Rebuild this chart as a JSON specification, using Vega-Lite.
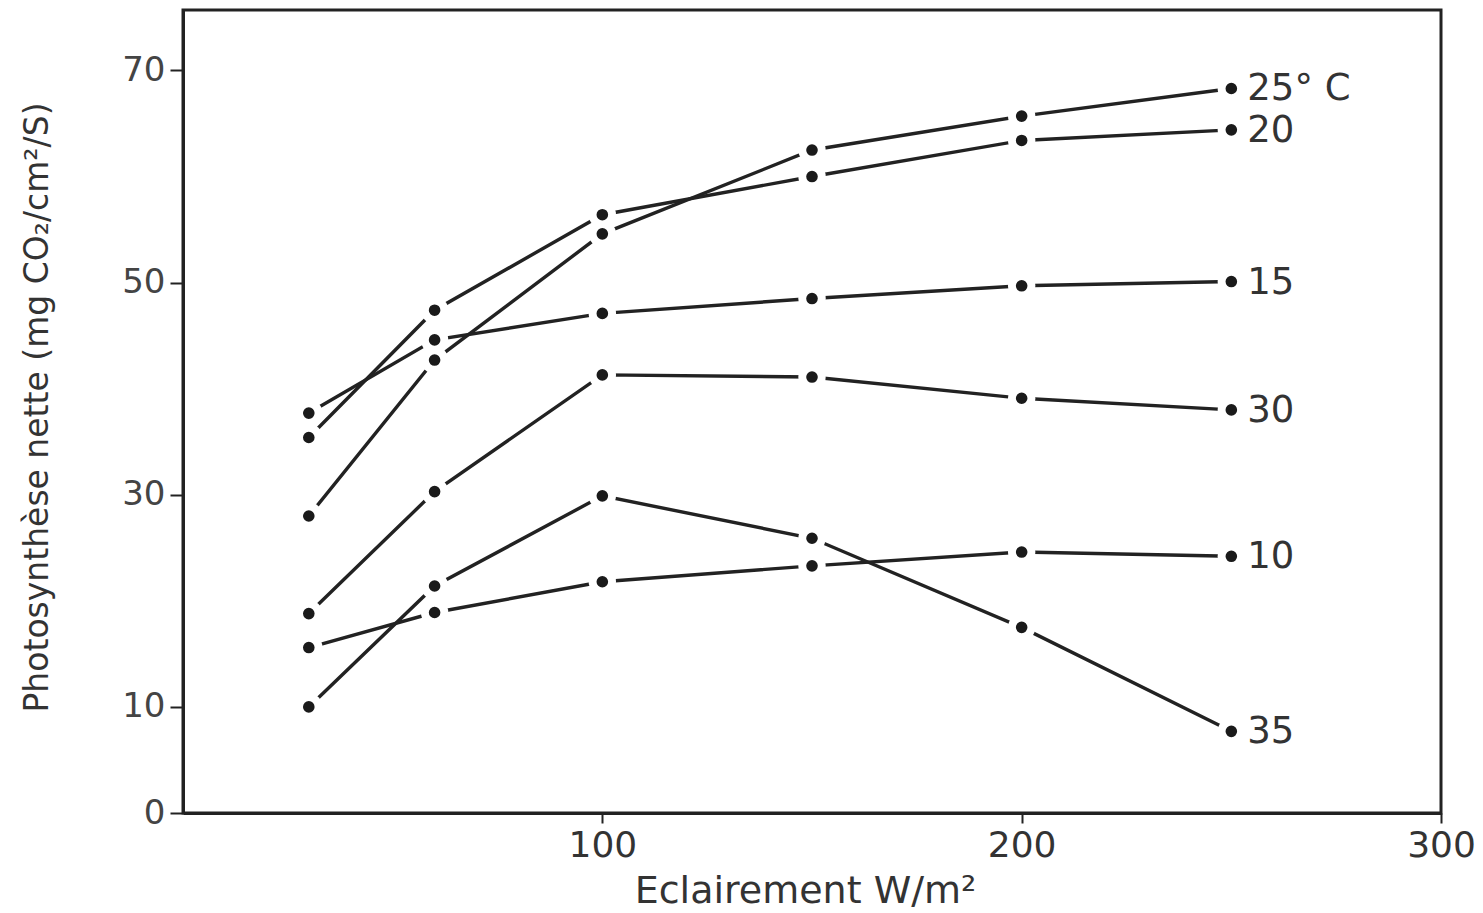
{
  "$schema": "https://vega.github.io/schema/vega-lite/v6.json",
  "autosize": {"type": "none"},
  "padding": {"left": 183, "top": 10, "right": 42, "bottom": 100},
  "width": 1258,
  "height": 803,
  "background": "white",
  "config": {
    "view": {"stroke": "#222", "strokeWidth": 3},
    "font": "DejaVu Sans"
  },
  "data": {
    "values": [
      {"serie": "25° C", "x": 30, "y": 28.0},
      {"serie": "25° C", "x": 60, "y": 42.7},
      {"serie": "25° C", "x": 100, "y": 54.6},
      {"serie": "25° C", "x": 150, "y": 62.5},
      {"serie": "25° C", "x": 200, "y": 65.7},
      {"serie": "25° C", "x": 250, "y": 68.3},
      {"serie": "20", "x": 30, "y": 35.4},
      {"serie": "20", "x": 60, "y": 47.4},
      {"serie": "20", "x": 100, "y": 56.4},
      {"serie": "20", "x": 150, "y": 60.0},
      {"serie": "20", "x": 200, "y": 63.4},
      {"serie": "20", "x": 250, "y": 64.4},
      {"serie": "15", "x": 30, "y": 37.7},
      {"serie": "15", "x": 60, "y": 44.6},
      {"serie": "15", "x": 100, "y": 47.1},
      {"serie": "15", "x": 150, "y": 48.5},
      {"serie": "15", "x": 200, "y": 49.7},
      {"serie": "15", "x": 250, "y": 50.1},
      {"serie": "30", "x": 30, "y": 18.8},
      {"serie": "30", "x": 60, "y": 30.3},
      {"serie": "30", "x": 100, "y": 41.3},
      {"serie": "30", "x": 150, "y": 41.1},
      {"serie": "30", "x": 200, "y": 39.1},
      {"serie": "30", "x": 250, "y": 38.0},
      {"serie": "10", "x": 30, "y": 15.6},
      {"serie": "10", "x": 60, "y": 18.9},
      {"serie": "10", "x": 100, "y": 21.8},
      {"serie": "10", "x": 150, "y": 23.3},
      {"serie": "10", "x": 200, "y": 24.6},
      {"serie": "10", "x": 250, "y": 24.2},
      {"serie": "35", "x": 30, "y": 10.0},
      {"serie": "35", "x": 60, "y": 21.4},
      {"serie": "35", "x": 100, "y": 29.9},
      {"serie": "35", "x": 150, "y": 25.9},
      {"serie": "35", "x": 200, "y": 17.5},
      {"serie": "35", "x": 250, "y": 7.7}
    ]
  },
  "encoding": {
    "x": {
      "field": "x",
      "type": "quantitative",
      "scale": {"domain": [0, 300], "nice": false, "zero": false},
      "axis": {
        "values": [100, 200, 300],
        "title": "Eclairement W/m²",
        "titleFont": "DejaVu Sans",
        "titleFontSize": 38,
        "titleFontWeight": "normal",
        "titleColor": "#333",
        "titleX": 622,
        "titleY": 78,
        "titleAlign": "center",
        "titleBaseline": "middle",
        "labelFont": "DejaVu Sans",
        "labelFontSize": 36,
        "labelColor": "#333",
        "labelPadding": 5,
        "labelFlush": false,
        "tickSize": 10,
        "tickColor": "#222",
        "tickWidth": 2,
        "domainColor": "#222",
        "domainWidth": 3,
        "grid": false
      }
    },
    "y": {
      "field": "y",
      "type": "quantitative",
      "scale": {"domain": [0, 75.7], "nice": false, "zero": false},
      "axis": {
        "values": [0, 10, 30, 50, 70],
        "title": "Photosynthèse nette (mg CO₂/cm²/S)",
        "titleFont": "DejaVu Sans",
        "titleFontSize": 33,
        "titleFontWeight": "normal",
        "titleColor": "#333",
        "titleAngle": -90,
        "titleX": -146,
        "titleY": 397,
        "titleAlign": "center",
        "titleBaseline": "middle",
        "labelFont": "DejaVu Sans",
        "labelFontSize": 34,
        "labelColor": "#444",
        "labelPadding": 5,
        "labelFlush": false,
        "tickSize": 13,
        "tickColor": "#222",
        "tickWidth": 2,
        "domainColor": "#222",
        "domainWidth": 3,
        "grid": false
      }
    }
  },
  "layer": [
    {
      "mark": {"type": "line", "color": "#222", "strokeWidth": 3.4},
      "encoding": {"detail": {"field": "serie"}}
    },
    {
      "mark": {"type": "point", "filled": true, "color": "white", "opacity": 1, "size": 750},
      "encoding": {}
    },
    {
      "mark": {"type": "point", "filled": true, "color": "#1a1a1a", "opacity": 1, "size": 135},
      "encoding": {}
    },
    {
      "transform": [{"filter": "datum.x == 250"}],
      "mark": {"type": "text", "align": "left", "baseline": "middle", "dx": 16, "dy": 1, "font": "DejaVu Sans", "fontSize": 37, "color": "#333"},
      "encoding": {"text": {"field": "serie"}}
    }
  ]
}
